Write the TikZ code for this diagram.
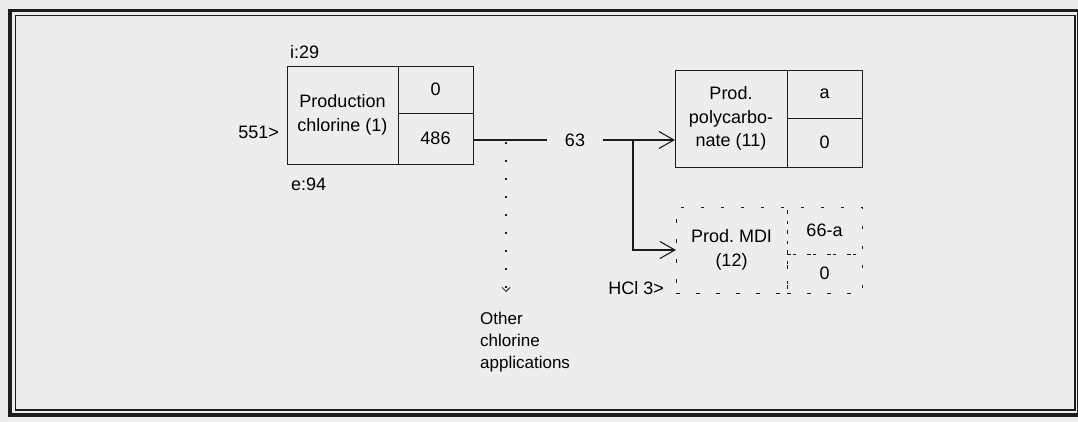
\documentclass[tikz,border=0pt]{standalone}
\usepackage{fontspec}
\setmainfont{Liberation Sans}
\usetikzlibrary{arrows.meta,positioning}
\definecolor{Ink}{HTML}{1C1C1C}
\definecolor{Paper}{HTML}{EDEDED}

\begin{document}
\begin{tikzpicture}[x=1pt,y=-1pt,
    cell/.style={draw=Ink,line width=0.9pt,inner sep=0pt,outer sep=0pt,anchor=north west,
      align=center,font=\fontsize{18}{23.5}\selectfont},
    dcell/.style={cell,dash pattern=on 3.5pt off 16.5pt},
    lbl/.style={inner sep=0pt,font=\fontsize{18}{23.5}\selectfont},
    flow/.style={line width=1.1pt,Ink},
    arr/.style={flow,-{Straight Barb[length=15pt,width=17pt,line width=1.1pt]}},
    dotline/.style={dash pattern=on 2pt off 16pt,line width=1.3pt,Ink,
      -{Straight Barb[length=4pt,width=8pt,line width=0.8pt]}}
  ]
    \useasboundingbox (0,0) rectangle (1078,422);
    \fill[Paper] (0,0) rectangle (1078,422);
    % double frame
    \draw[Ink,line width=3.5pt] (10,10.5) rectangle (1079,415);
    \draw[Ink,line width=1.4pt] (15.5,15.5) rectangle (1075,410);

    % chlorine production
    \node[cell,minimum width=111pt,minimum height=98pt] (p1) at (287,66) {Production\\chlorine (1)};
    \node[cell,minimum width=75pt,minimum height=47pt] (p1a) at (398,66) {0};
    \node[cell,minimum width=75pt,minimum height=51pt] (p1b) at (398,113) {486};
    \node[lbl,anchor=base west] (imp) at (290,59) {i:29};
    \node[lbl,anchor=base west] (exp) at (291,190) {e:94};
    \node[lbl,anchor=east] (feed) at (279,132) {551>};

    % polycarbonate
    \node[cell,minimum width=112pt,minimum height=97pt] (p2) at (675,70) {Prod.\\polycarbo-\\nate (11)};
    \node[cell,minimum width=75pt,minimum height=48pt] (p2a) at (787,70) {a};
    \node[cell,minimum width=75pt,minimum height=49pt] (p2b) at (787,118) {0};

    % MDI
    \node[dcell,minimum width=111pt,minimum height=86pt] (p3) at (676,207) {Prod.\ MDI\\(12)};
    \node[dcell,minimum width=75pt,minimum height=47pt] (p3a) at (787,207) {66-a};
    \node[dcell,minimum width=75pt,minimum height=39pt] (p3b) at (787,254) {0};
    \node[lbl,anchor=east] (hcl) at (664,288) {HCl 3>};

    % flows
    \node[lbl,inner xsep=18pt] (f63) at (575,140) {63};
    \draw[flow] (p1b.east |- f63) -- (f63.west);
    \draw[arr] (f63.east) -- (f63 -| p2.west);
    \coordinate (split) at (633,140);
    \draw[arr] (split) |- (p3.west);

    \node[lbl,anchor=north west,align=left,font=\fontsize{17}{22}\selectfont] (other) at (480,312)
      {Other\\chlorine\\applications};
    \coordinate (tap) at (506,142);
    \coordinate (tapend) at (506,292);
    \draw[dotline] (tap) -- (tapend);
  \end{tikzpicture}
\end{document}
